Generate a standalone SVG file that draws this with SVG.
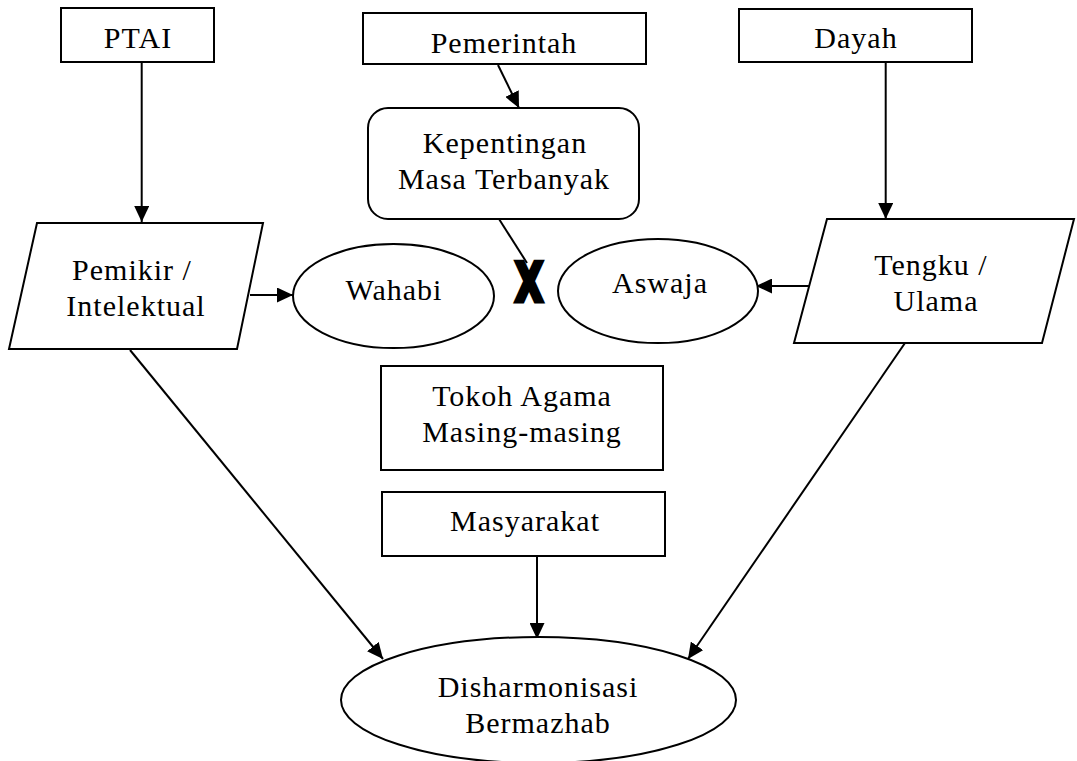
<svg xmlns="http://www.w3.org/2000/svg" width="1077" height="761" viewBox="0 0 1077 761">
<style>
.box{fill:#fff;stroke:#000;stroke-width:2}
.t{font-family:"Liberation Serif","Times New Roman",serif;font-size:30px;letter-spacing:1px;fill:#000;text-anchor:middle}
.ln{stroke:#000;stroke-width:2;fill:none}
</style>
<defs>
<marker id="ah" markerUnits="userSpaceOnUse" markerWidth="17" markerHeight="15" refX="16" refY="7.5" orient="auto">
<path d="M0,0 L16,7.5 L0,15 z" fill="#000"/>
</marker>
</defs>
<rect width="1077" height="761" fill="#fff"/>
<g id="connectors">
<line class="ln" x1="141.7" y1="63" x2="141.7" y2="222" marker-end="url(#ah)"/>
<line class="ln" x1="885.7" y1="63" x2="885.7" y2="219" marker-end="url(#ah)"/>
<line class="ln" x1="498" y1="65" x2="519" y2="108" marker-end="url(#ah)"/>
<line class="ln" x1="250" y1="295" x2="293" y2="295" marker-end="url(#ah)"/>
<line class="ln" x1="810" y1="286" x2="756" y2="286" marker-end="url(#ah)"/>
<line class="ln" x1="499" y1="219" x2="527" y2="263"/>
<line class="ln" x1="130" y1="350" x2="383" y2="659" marker-end="url(#ah)"/>
<line class="ln" x1="905" y1="343" x2="688" y2="659" marker-end="url(#ah)"/>
<line class="ln" x1="537" y1="556" x2="537" y2="639" marker-end="url(#ah)"/>
</g>
<g id="ptai">
<rect class="box" x="61" y="8" width="153" height="54"/>
<text class="t" x="138" y="48">PTAI</text>
</g>
<g id="pemerintah">
<rect class="box" x="363" y="13" width="283" height="51"/>
<text class="t" x="504" y="53">Pemerintah</text>
</g>
<g id="dayah">
<rect class="box" x="739" y="9" width="233" height="53"/>
<text class="t" x="856" y="48">Dayah</text>
</g>
<g id="kepentingan">
<rect class="box" x="368" y="108" width="271" height="111" rx="20" ry="20"/>
<text class="t" x="505" y="153">Kepentingan</text>
<text class="t" x="504" y="189">Masa Terbanyak</text>
</g>
<g id="pemikir">
<polygon class="box" points="37,223 263,223 237,349 9,349"/>
<text class="t" x="132" y="280">Pemikir /</text>
<text class="t" x="136" y="316">Intelektual</text>
</g>
<g id="tengku">
<polygon class="box" points="827,219 1074,219 1042,343 794,343"/>
<text class="t" x="931" y="275">Tengku /</text>
<text class="t" x="936" y="311">Ulama</text>
</g>
<g id="wahabi">
<ellipse class="box" cx="393.5" cy="296" rx="100.5" ry="52"/>
<text class="t" x="394" y="300">Wahabi</text>
</g>
<g id="cross">
<text transform="translate(529,301) scale(0.64,0.95)" text-anchor="middle" font-family="DejaVu Sans, sans-serif" font-weight="bold" font-size="56" fill="#000" stroke="#000" stroke-width="5" stroke-linejoin="miter">X</text>
</g>
<g id="aswaja">
<ellipse class="box" cx="658" cy="291" rx="100" ry="52"/>
<text class="t" x="660" y="293">Aswaja</text>
</g>
<g id="tokoh">
<rect class="box" x="381" y="366" width="282" height="104"/>
<text class="t" x="522" y="406">Tokoh Agama</text>
<text class="t" x="522" y="442">Masing-masing</text>
</g>
<g id="masyarakat">
<rect class="box" x="382" y="492" width="283" height="64"/>
<text class="t" x="525" y="531">Masyarakat</text>
</g>
<g id="disharmonisasi">
<ellipse class="box" cx="538.5" cy="700" rx="197.5" ry="63"/>
<text class="t" x="538" y="697">Disharmonisasi</text>
<text class="t" x="538" y="733">Bermazhab</text>
</g>
</svg>
